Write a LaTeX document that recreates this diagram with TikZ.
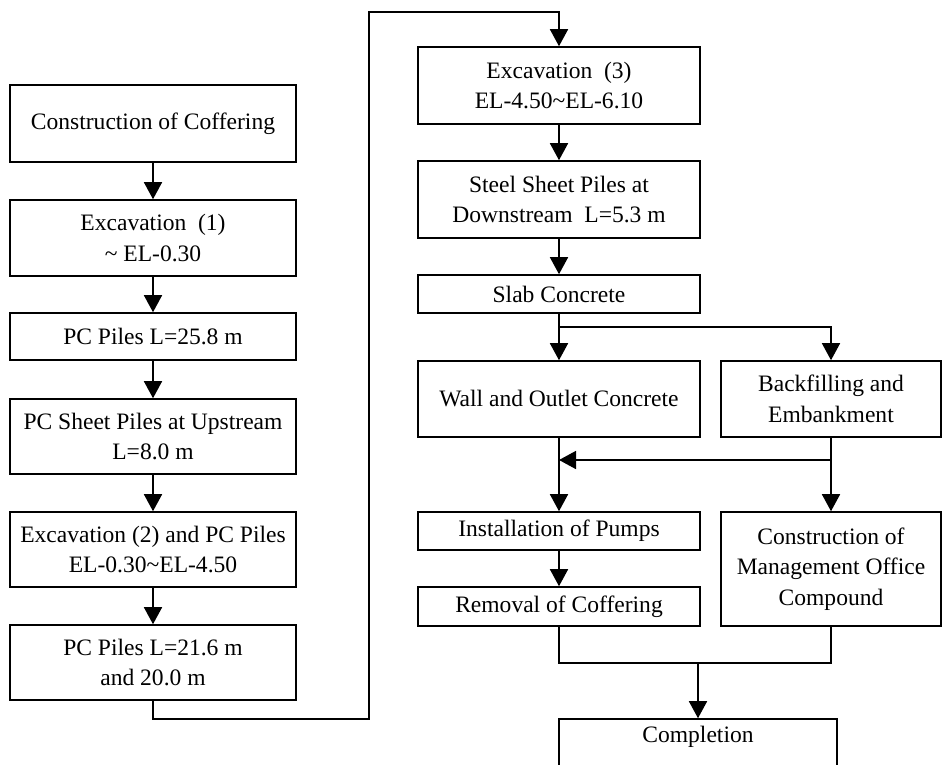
\documentclass[tikz,border=0pt]{standalone}
\usepackage{fontspec}
\setmainfont{Liberation Serif}
\usetikzlibrary{arrows.meta}
\usetikzlibrary{positioning}

\begin{document}
\begin{tikzpicture}[x=0.02cm, y=-0.02cm, line width=0.9pt,
    stage/.style={draw, rectangle, align=center, inner sep=2pt,
        font=\fontsize{13.4}{17.5}\selectfont},
    flow/.style={-{Triangle[length=0.34cm, width=0.36cm]}}]
    \useasboundingbox (0,0) rectangle (943,764);
    \clip (0,0) rectangle (943,764);
    % left column
    \node[stage, minimum width=5.72cm, minimum height=1.54cm] at (153,123.5) (cof) {Construction of Coffering};
    \node[stage, minimum width=5.72cm, minimum height=1.52cm] at (153,238) (exc1) {Excavation\ \ (1)\\ \textasciitilde\ EL-0.30};
    \node[stage, minimum width=5.72cm, minimum height=0.94cm] at (153,336.5) (pc1) {PC Piles L=25.8 m};
    \node[stage, minimum width=5.72cm, minimum height=1.5cm] at (153,436.5) (sheet) {PC Sheet Piles at Upstream\\ L=8.0 m};
    \node[stage, minimum width=5.72cm, minimum height=1.5cm] at (153,549.5) (exc2) {Excavation (2) and PC Piles\\ EL-0.30\textasciitilde EL-4.50};
    \node[stage, minimum width=5.72cm, minimum height=1.5cm] at (153,662.5) (pc2) {PC Piles L=21.6 m\\ and 20.0 m};
    \draw[flow] (cof) -- (exc1);
    \draw[flow] (exc1) -- (pc1);
    \draw[flow] (pc1) -- (sheet);
    \draw[flow] (sheet) -- (exc2);
    \draw[flow] (exc2) -- (pc2);

    % right column
    \node[stage, minimum width=5.64cm, minimum height=1.54cm] at (559,85.5) (exc3) {Excavation\ \ (3)\\ EL-4.50\textasciitilde EL-6.10};
    \node[stage, minimum width=5.64cm, minimum height=1.54cm] at (559,199.5) (steel) {Steel Sheet Piles at\\ Downstream\ \ L=5.3 m};
    \node[stage, minimum width=5.64cm, minimum height=0.76cm] at (559,294) (slab) {Slab Concrete};
    \node[stage, minimum width=5.64cm, minimum height=1.52cm] at (559,399) (wall) {Wall and Outlet Concrete};
    \node[stage, minimum width=5.64cm, minimum height=0.76cm] at (559,531) (pump) {Installation of Pumps};
    \node[stage, minimum width=5.64cm, minimum height=0.78cm] at (559,606.5) (remov) {Removal of Coffering};
    \node[stage, minimum width=4.4cm, minimum height=1.52cm] at (831,399) (back) {Backfilling and\\ Embankment};
    \node[stage, minimum width=4.4cm, minimum height=2.28cm] at (831,569) (office) {Construction of\\ Management Office\\ Compound};
    \node[stage, minimum width=5.56cm, minimum height=1.4cm] at (698,754) (done) {Completion\\ \strut};

    % links
    \coordinate (turnA) at (369,719);
    \coordinate (turnB) at (369,12);
    \coordinate (split) at (559,327);
    \coordinate (join) at (559,460);
    \coordinate (merge) at (698,663);
    \draw[flow] (pc2.south) |- (turnA) -- (turnB) -| (exc3.north);
    \draw[flow] (exc3) -- (steel);
    \draw[flow] (steel) -- (slab);
    \draw[flow] (slab) -- (wall);
    \draw[flow] (split) -| (back.north);
    \draw[flow] (wall) -- (pump);
    \draw[flow] (back) -- (office);
    \draw[flow] (back.south |- join) -- (join);
    \draw[flow] (pump) -- (remov);
    \draw (remov.south) |- (merge) -| (office.south);
    \draw[flow] (merge) -- (done.north);
\end{tikzpicture}
\end{document}
